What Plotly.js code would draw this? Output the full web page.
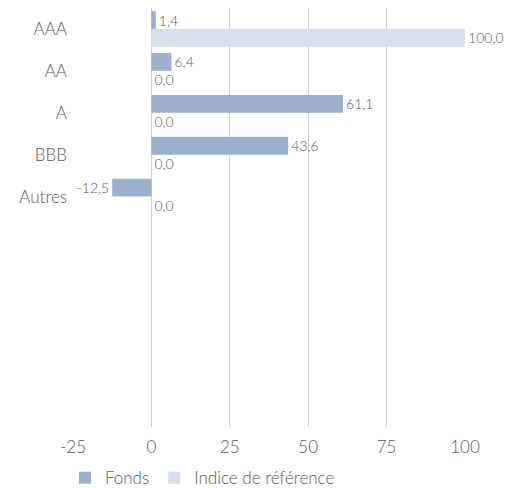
<!DOCTYPE html>
<html><head><meta charset="utf-8">
<script src="https://cdn.plot.ly/plotly-3.0.1.min.js"></script>
<style>html,body{margin:0;padding:0;background:#fff}#c{width:532px;height:488px}</style>
</head><body><div id="c"></div>
<script>
const categories = ["AAA","AA","A","BBB","Autres"," ","  ","   ","    ","     "];
const shown = ["AAA","AA","A","BBB","Autres"];
const fonds = [1.4, 6.4, 61.1, 43.6, -12.5];
const indice = [100.0, 0.0, 0.0, 0.0, 0.0];
const xTicks = [-25, 0, 25, 50, 75, 100];
const xTickText = ["-25", "0", "25", "50", "75", "100"];

const common = {type:'bar', orientation:'h', textposition:'outside', texttemplate:'%{x:.1f}',
  textfont:{family:'Lato, sans-serif', size:14, color:'#595959', weight:300}, cliponaxis:false, hoverinfo:'none'};
const data = [
  Object.assign({}, common, {name:'Fonds', y:shown, x:fonds, marker:{color:'#9AB0CB'}}),
  Object.assign({}, common, {name:'Indice de référence', y:shown, x:indice, marker:{color:'#D6E0EA'}})
];
const layout = {
  width:532, height:488, margin:{l:73, r:67, t:8, b:61, autoexpand:false},
  paper_bgcolor:'#fff', plot_bgcolor:'#fff',
  separators:', ',
  barmode:'group', bargap:0.15, bargroupgap:0,
  font:{family:'Lato, sans-serif', color:'#595959', weight:300},
  xaxis:{range:[-25,100], tickvals:xTicks, ticktext:xTickText, showgrid:true, gridcolor:'#D0D0D0', gridwidth:1,
    zeroline:true, zerolinecolor:'#D0D0D0', zerolinewidth:1, showline:false, ticks:'', automargin:false,
    tickfont:{size:17, color:'#595959', weight:300}, ticklabelstandoff:8},
  yaxis:{type:'category', categoryorder:'array', categoryarray:categories, range:[9.5,-0.5], automargin:false,
    showgrid:false, zeroline:false, showline:false, ticks:'', ticklabelstandoff:5,
    tickfont:{size:17, color:'#595959', weight:300}},
  showlegend:true,
  legend:{orientation:'h', xref:'container', x:0.122, xanchor:'left', yref:'container', y:0.02, yanchor:'middle',
    bgcolor:'rgba(0,0,0,0)', font:{size:17, color:'#595959', weight:300}, itemwidth:30, traceorder:'normal'}
};
Plotly.newPlot('c', data, layout, {displayModeBar:false, staticPlot:true});
</script></body></html>
